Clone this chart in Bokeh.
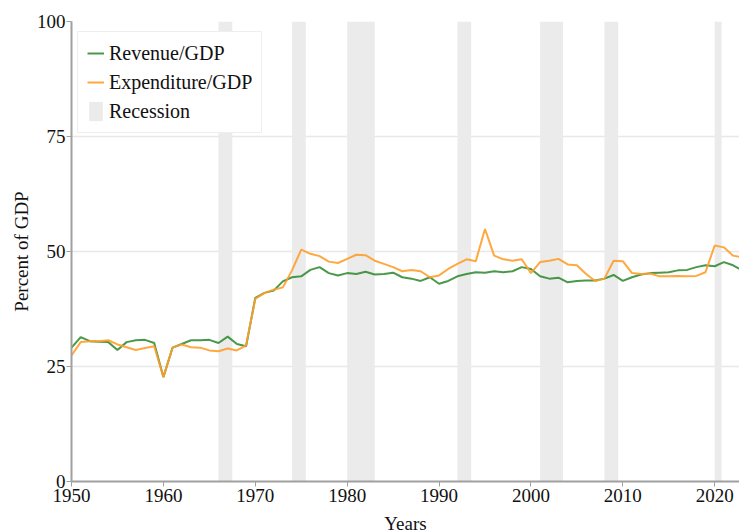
from bokeh.plotting import figure
from bokeh.models import Legend, LegendItem, FixedTicker, Range1d, ColumnDataSource
from bokeh.embed import file_html
from bokeh.resources import INLINE

years = list(range(1950, 2024))
revenue = [29.1, 31.4, 30.5, 30.4, 30.3, 28.6, 30.3, 30.7, 30.8, 30.1,
           22.7, 29.1, 29.9, 30.7, 30.7, 30.8, 30.1, 31.5, 29.9, 29.4,
           39.9, 41.0, 41.5, 43.5, 44.4, 44.6, 46.0, 46.6, 45.3, 44.8,
           45.3, 45.1, 45.6, 45.0, 45.1, 45.4, 44.4, 44.1, 43.6, 44.4,
           43.0, 43.6, 44.6, 45.1, 45.5, 45.4, 45.7, 45.5, 45.7, 46.6,
           46.2, 44.6, 44.1, 44.3, 43.3, 43.6, 43.7, 43.7, 44.1, 44.9,
           43.6, 44.4, 45.0, 45.3, 45.4, 45.5, 45.9, 46.0, 46.6, 47.0,
           46.8, 47.7, 47.0, 45.9]
expenditure = [27.4, 30.3, 30.5, 30.5, 30.7, 29.8, 29.2, 28.6, 29.0, 29.4,
               22.7, 29.1, 29.8, 29.2, 29.1, 28.5, 28.3, 28.9, 28.5, 29.6,
               39.7, 41.0, 41.7, 42.2, 45.9, 50.4, 49.5, 49.0, 47.8, 47.5,
               48.4, 49.3, 49.2, 48.0, 47.3, 46.6, 45.7, 46.0, 45.7, 44.4,
               44.8, 46.2, 47.3, 48.3, 47.9, 54.9, 49.1, 48.3, 48.0, 48.3,
               45.3, 47.7, 48.0, 48.4, 47.2, 47.0, 45.1, 43.6, 44.1, 48.0,
               47.9, 45.3, 45.1, 45.2, 44.6, 44.6, 44.7, 44.6, 44.7, 45.5,
               51.3, 50.9, 49.1, 48.7]
recession_start = [1966, 1974, 1980, 1992, 2001, 2008, 2020]
recession_end = [1967.5, 1975.5, 1983, 1993.5, 2003.5, 2009.5, 2020.75]
x_ticks = [1950, 1960, 1970, 1980, 1990, 2000, 2010, 2020]
y_ticks = [0, 25, 50, 75, 100]

FONT = "Liberation Serif"

p = figure(frame_width=668, frame_height=460, output_backend="svg", toolbar_location=None,
           x_range=Range1d(1950, 2022.7), y_range=Range1d(0, 100),
           min_border_left=71, min_border_top=21, min_border_right=0,
           min_border_bottom=50)
p.outline_line_color = None

rsrc = ColumnDataSource(dict(left=recession_start, right=recession_end,
                             bottom=[0] * len(recession_start),
                             top=[100] * len(recession_start)))
rec = p.quad(left="left", right="right", bottom="bottom", top="top", source=rsrc,
             fill_color="#ebebeb", line_color=None)
r1 = p.line(years, revenue, line_color="#2a862a", line_width=2, line_alpha=0.85)
r2 = p.line(years, expenditure, line_color="#ff9f2a", line_width=2, line_alpha=0.9)

p.xaxis.ticker = FixedTicker(ticks=x_ticks)
p.yaxis.ticker = FixedTicker(ticks=y_ticks)
p.xgrid.grid_line_color = None
p.ygrid.grid_line_color = "#e8e8e8"
p.ygrid.grid_line_width = 1.5
for ax in (p.xaxis[0], p.yaxis[0]):
    ax.axis_line_color = "#a0a0a0"
    ax.axis_line_width = 2
    ax.major_tick_line_color = "#a0a0a0"
    ax.major_tick_out = 5
    ax.major_tick_in = 0
    ax.minor_tick_line_color = None
    ax.major_label_text_font = FONT
    ax.major_label_text_font_size = "19px"
    ax.major_label_text_color = "#111111"
    ax.axis_label_text_font = FONT
    ax.axis_label_text_font_size = "19px"
    ax.axis_label_text_font_style = "normal"
    ax.axis_label_text_color = "#111111"
p.xaxis.axis_label = "Years"
p.yaxis.axis_label = "Percent of GDP"
p.xaxis.major_label_standoff = 2
p.xaxis.axis_label_standoff = 8
p.yaxis.major_label_standoff = 1
p.yaxis.axis_label_standoff = 2

legend = Legend(items=[LegendItem(label="Revenue/GDP", renderers=[r1]),
                       LegendItem(label="Expenditure/GDP", renderers=[r2]),
                       LegendItem(label="Recession", renderers=[rec])],
                location=(6, 348))
legend.label_text_font = FONT
legend.label_text_font_size = "20px"
legend.label_text_color = "#111111"
legend.border_line_color = "#dddddd"
legend.border_line_width = 1
legend.background_fill_color = "white"
legend.background_fill_alpha = 1
legend.glyph_width = 17
legend.glyph_height = 24
legend.label_height = 24
legend.spacing = 5
legend.padding = 9
legend.margin = 0
legend.label_standoff = 5
p.add_layout(legend)

open("out.html", "w").write(file_html(p, INLINE))
